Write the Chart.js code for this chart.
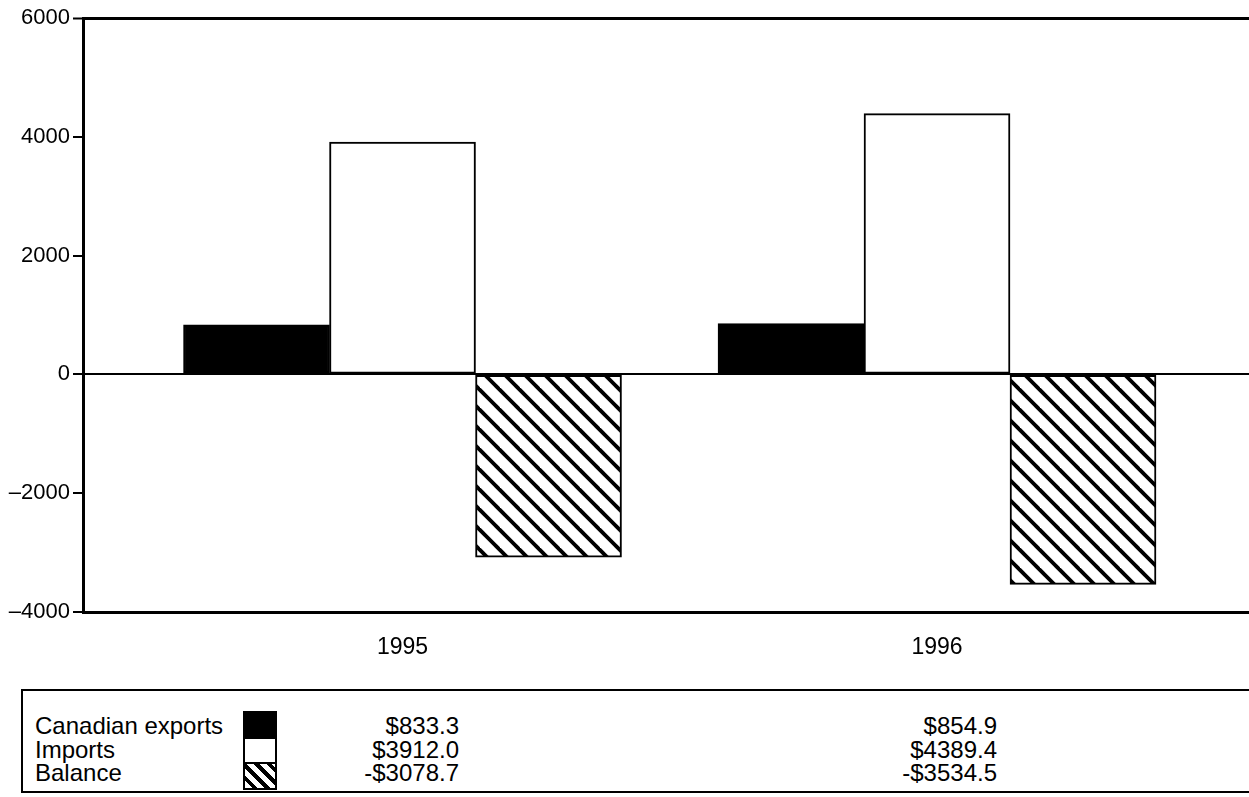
<!DOCTYPE html>
<html>
<head>
<meta charset="utf-8">
<script src="https://cdn.jsdelivr.net/npm/chart.js@4/dist/chart.umd.min.js"></script>
<style>
  html, body { margin: 0; padding: 0; background: #fff; overflow: hidden; }
  body { width: 1249px; height: 797px; position: relative; font-family: "Liberation Sans", Arial, sans-serif; color: #000; }
  #wrap { position: absolute; left: 0; top: 0; width: 1249px; height: 680px; }
  .table { position: absolute; left: 21px; top: 689px; width: 1250px; height: 104px; border: 2px solid #000; box-sizing: border-box; }
  .labels, .vals { position: absolute; top: 23px; font-size: 24px; line-height: 23.5px; }
  .labels { left: 12px; }
  .vals { text-align: right; width: 200px; }
  .sw { position: absolute; left: 220px; width: 34px; border: 2px solid #000; box-sizing: border-box; }
</style>
</head>
<body>
<div id="wrap"><canvas id="tradeChart" width="1249" height="680"></canvas></div>
<div class="table" id="table"></div>

<script>
const years = ["1995", "1996"];
const seriesNames = ["Canadian exports", "Imports", "Balance"];
const exportsData = [833.3, 854.9];
const importsData = [3912.0, 4389.4];
const balanceData = [-3078.7, -3534.5];
const yTicks = [-4000, -2000, 0, 2000, 4000, 6000];

const canvas = document.getElementById("tradeChart");
const ctx = canvas.getContext("2d");

// diagonal "\" hatch, lines cross the tile edges at mid-points so tiles join cleanly
function makeHatch() {
  const s = 20;
  const c = document.createElement("canvas");
  c.width = s;
  c.height = s;
  const g = c.getContext("2d");
  g.fillStyle = "#fff";
  g.fillRect(0, 0, s, s);
  g.strokeStyle = "#000";
  g.lineWidth = 3.8;
  for (const k of [10, -10]) {
    g.beginPath();
    g.moveTo(-s, -s + k);
    g.lineTo(2 * s, 2 * s + k);
    g.stroke();
  }
  return ctx.createPattern(c, "repeat");
}

const toPoints = (arr) => arr.map((v, i) => ({ x: i, y: v }));

const font = { family: "'Liberation Sans', Arial, sans-serif" };

new Chart(ctx, {
  type: "bar",
  data: {
    datasets: [
      { label: seriesNames[0], data: toPoints(exportsData), backgroundColor: "#000" },
      { label: seriesNames[1], data: toPoints(importsData), backgroundColor: "#fff" },
      { label: seriesNames[2], data: toPoints(balanceData), backgroundColor: makeHatch() },
    ],
  },
  options: {
    responsive: false,
    animation: false,
    devicePixelRatio: 1,
    layout: { padding: { top: 18, left: 0, right: 0, bottom: 0 } },
    datasets: {
      bar: {
        barThickness: 146,
        borderColor: "#000",
        borderWidth: 2,
        borderSkipped: false,
      },
    },
    scales: {
      x: {
        type: "linear",
        offset: false,
        min: -0.5978,
        max: 1.5837,
        grid: { display: false, drawTicks: false, offset: false },
        border: { display: true, color: "#000", width: 3 },
        afterFit: (scale) => {
          scale.height = 68;
          scale.paddingLeft = 0;
          scale.paddingRight = 0;
        },
        ticks: {
          stepSize: 1,
          includeBounds: false,
          padding: 22,
          color: "#000",
          font: { ...font, size: 23 },
          callback: (value) => years[Math.round(value)] ?? "",
        },
      },
      y: {
        min: yTicks[0],
        max: yTicks[yTicks.length - 1],
        afterFit: (scale) => { scale.width = 83; },
        afterBuildTicks: (scale) => { scale.ticks = yTicks.map((v) => ({ value: v })); },
        grid: {
          drawTicks: true,
          tickLength: 10,
          tickColor: "#000",
          tickWidth: 2,
          color: (c) => (c.tick && (c.tick.value === 0 || c.tick.value === 6000) ? "#000" : "rgba(0,0,0,0)"),
          lineWidth: (c) => (c.tick && c.tick.value === 6000 ? 3 : 2),
        },
        border: { display: true, color: "#000", width: 3 },
        ticks: {
          padding: 3,
          color: "#000",
          font: { ...font, size: 22 },
          callback: (value) => (value < 0 ? "\u2013" + Math.abs(value) : String(value)),
        },
      },
    },
    plugins: {
      legend: { display: false },
      tooltip: { enabled: false },
    },
  },
});

// data table under the chart
const table = document.getElementById("table");
const labels = document.createElement("div");
labels.className = "labels";
labels.innerHTML = seriesNames.join("<br>");
table.appendChild(labels);

const swatchFills = [
  "#000",
  "#fff",
  "repeating-linear-gradient(45deg, #fff 0px, #fff 5px, #000 5px, #000 9px)",
];
const swatchTops = [20, 46, 71];
const swatchHeights = [28, 27, 28];
swatchFills.forEach((fill, i) => {
  const sw = document.createElement("div");
  sw.className = "sw";
  sw.style.top = swatchTops[i] + "px";
  sw.style.height = swatchHeights[i] + "px";
  sw.style.background = fill;
  table.appendChild(sw);
});

const fmt = (v) => (v < 0 ? "-$" : "$") + Math.abs(v).toFixed(1);
const valueRight = [436, 974];
years.forEach((year, i) => {
  const col = document.createElement("div");
  col.className = "vals";
  col.style.left = valueRight[i] - 200 + "px";
  col.innerHTML = [exportsData[i], importsData[i], balanceData[i]].map(fmt).join("<br>");
  table.appendChild(col);
});
</script>
</body>
</html>
